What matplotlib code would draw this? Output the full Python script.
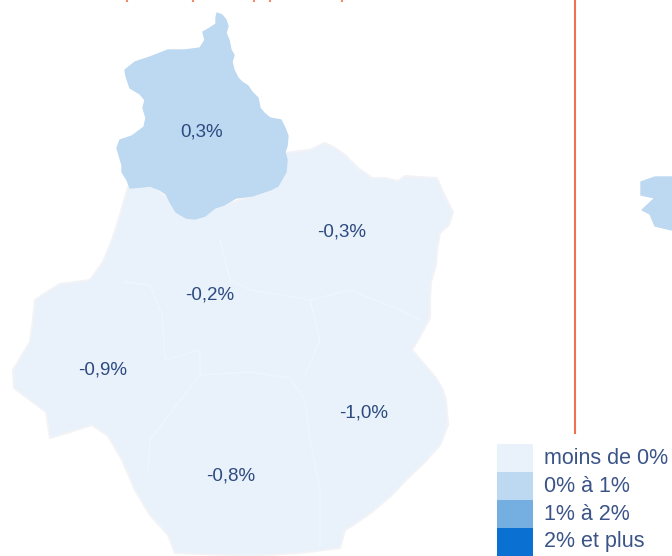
#!/usr/bin/env python
# -*- coding: utf-8 -*-
import matplotlib
matplotlib.use("Agg")
import matplotlib.pyplot as plt
from matplotlib.patches import Polygon, Rectangle

# donnees (coordonnees de l'image)
legend_labels = ["moins de 0%", "0% à 1%", "1% à 2%", "2% et plus"]
legend_colors = ["#e9f2fb", "#bdd8f1", "#75aee1", "#0a70d1"]

region_labels = ["0,3%", "-0,3%", "-0,2%", "-0,9%", "-1,0%", "-0,8%"]
region_x = [202, 342, 210, 103, 364, 231]
region_y = [132, 232, 295, 370, 413, 476]

eure_et_loir = [(217,13),(222,15),(226,20),(228,26),(226,33),(229,40),(231,50),(234,55),(232,62),
    (234,70),(238,78),(242,82),(248,86),(252,92),(258,98),(260,108),(264,113),(270,118),(281,120),
    (285,128),(288,136),(287,146),(285,152),(287,160),(286,172),(278,186),(270,190),(264,192),
    (252,196),(236,198),(224,205),(215,208),(205,216),(195,219),(186,218),(176,212),(170,202),
    (166,194),(160,190),(150,186),(142,187),(130,188),(127,180),(122,172),(122,165),(117,148),
    (120,140),(132,136),(144,127),(146,118),(143,108),(145,100),(140,94),(130,88),(126,76),
    (125,70),(135,62),(150,57),(168,50),(185,50),(200,48),(205,40),(203,32),(210,28),(216,24),
    (216,18)]
region_fond = [(128,187),(150,185),(170,200),(188,218),(215,208),(252,196),(286,153),(300,151),
    (310,150),(325,143),(335,148),(345,155),(358,168),(372,178),(385,178),(398,181),(405,176),
    (420,177),(437,178),(442,190),(448,202),(453,212),(449,225),(440,233),(437,250),(436,265),
    (431,282),(430,300),(430,318),(418,340),(412,350),(424,364),(436,378),(442,388),(446,400),
    (448,425),(440,445),(425,462),(408,478),(392,495),(372,512),(355,524),(345,530),(340,548),
    (300,553),(250,556),(175,553),(168,535),(150,515),(135,490),(122,460),(108,436),(92,425),
    (70,432),(50,438),(46,412),(30,400),(14,388),(13,370),(22,355),(30,342),(33,320),(35,300),
    (50,290),(60,284),(90,280),(103,262),(112,240),(120,215)]
bretagne = [(672,177),(655,177),(641,182),(641,195),(655,198),(642,210),(650,214),(655,226),
    (672,230)]

limites = [
    [(125,282),(150,285),(162,315),(165,360),(200,350),(200,375),(165,420),(150,440),(148,470)],
    [(200,375),(250,372),(290,378),(305,400),(310,440),(320,490),(320,545)],
    [(220,240),(230,280),(250,290),(310,300),(320,340),(305,375)],
    [(310,300),(350,290),(400,310),(420,320)],
]
orange_x = [127, 193, 254, 270, 342]

fig = plt.figure(figsize=(6.72, 5.56), dpi=100)
ax = fig.add_axes([0, 0, 1, 1])
ax.set_xlim(0, 672)
ax.set_ylim(556, 0)
ax.axis("off")

ax.add_patch(Polygon(region_fond, closed=True, fc=legend_colors[0], ec="#f1f3f6", lw=1.5, joinstyle="round"))
for lim in limites:
    ax.plot(*zip(*lim), color="#eff5fc", lw=1.0)
ax.add_patch(Polygon(eure_et_loir, closed=True, fc=legend_colors[1], ec=legend_colors[1], lw=1, joinstyle="round"))
ax.add_patch(Polygon(bretagne, closed=True, fc=legend_colors[1], ec=legend_colors[1], lw=1))

# ligne de separation + bas du titre coupe
ax.plot([575, 575], [0, 433], color="#f07050", lw=1.5)
ax.vlines(orange_x, 0, 2, color="#f58a6a", lw=1.5)

for lab, x, y in zip(region_labels, region_x, region_y):
    ax.text(x, y, lab, ha="center", va="center", fontsize=13.5,
            family="Liberation Sans", color="#2d4a80")

for i, (lab, col) in enumerate(zip(legend_labels, legend_colors)):
    ax.add_patch(Rectangle((497, 444 + i * 28), 36, 28, fc=col, ec="none"))
    ax.text(544, 458 + i * 28, lab, ha="left", va="center", fontsize=15.5,
            family="Liberation Sans", color="#3b5488")

plt.savefig("out.png", dpi=100)
